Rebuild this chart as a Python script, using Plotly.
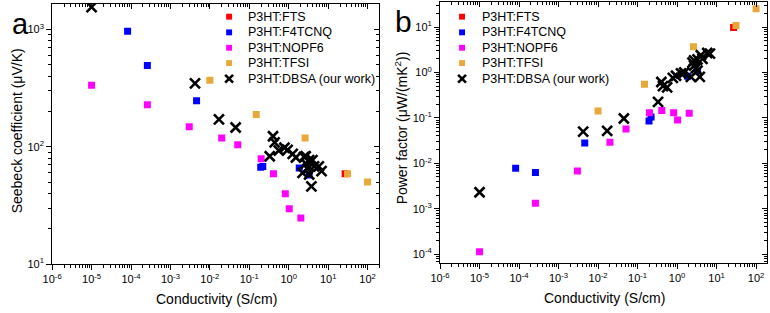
import plotly.graph_objects as go

# ---------------- data ----------------
series_names = ["P3HT:FTS", "P3HT:F4TCNQ", "P3HT:NOPF6", "P3HT:TFSI", "P3HT:DBSA (our work)"]
series_colors = ["#FF0000", "#0000FF", "#FF00FF", "#E8A93A", "#000000"]

# conductivity (S/cm), Seebeck (uV/K), power factor (uW/(m K^2))
fts_cond = [27]
fts_seebeck = [59]
fts_pf = [9.8]

f4tcnq_cond = [8.2e-5, 2.6e-4, 4.6e-3, 0.195, 0.22, 1.85, 3.3]
f4tcnq_seebeck = [966, 493, 247, 67, 68, 66, 57.5]
f4tcnq_pf = [7.8e-3, 6.3e-3, 0.028, 0.086, 0.105, 0.83, 1.1]

nopf6_cond = [1e-5, 2.6e-4, 3.0e-3, 0.020, 0.051, 0.20, 0.41, 0.82, 1.03, 2.03]
nopf6_seebeck = [335, 228, 148, 119, 104, 79, 59, 39.7, 29.7, 24.7]
nopf6_pf = [1.13e-4, 1.32e-3, 6.8e-3, 0.029, 0.057, 0.13, 0.146, 0.13, 0.09, 0.126]

tfsi_cond = [0.01, 0.15, 2.6, 31, 100]
tfsi_seebeck = [369, 188, 119, 59, 50]
tfsi_pf = [0.142, 0.55, 3.7, 10.9, 25.4]

dbsa_cond = [1e-5, 4.2e-3, 0.017, 0.045, 0.33, 0.40, 0.44, 0.56, 0.78, 0.94, 1.26, 1.52,
             2.7, 2.7, 3.0, 4.0, 4.4, 5.8, 6.8, 2.24, 3.3, 3.76, 2.45, 3.3]
dbsa_seebeck = [1550, 347, 171, 146, 83, 123, 109, 93, 98, 94, 87, 81,
                83, 72, 65, 77, 68, 68, 62, 60, 58, 46, 82, 77]
dbsa_pf = [2.3e-3, 0.05, 0.052, 0.097, 0.225, 0.62, 0.50, 0.47, 0.76, 0.85, 0.96, 1.0,
           1.85, 1.42, 1.25, 2.4, 2.0, 2.7, 2.6, 0.80, 1.1, 0.80, 1.65, 1.95]

cond_list = [fts_cond, f4tcnq_cond, nopf6_cond, tfsi_cond, dbsa_cond]
seebeck_list = [fts_seebeck, f4tcnq_seebeck, nopf6_seebeck, tfsi_seebeck, dbsa_seebeck]
pf_list = [fts_pf, f4tcnq_pf, nopf6_pf, tfsi_pf, dbsa_pf]

# tick labels
x_tickvals = [1e-6, 1e-5, 1e-4, 1e-3, 1e-2, 1e-1, 1, 10, 100]
x_ticktext = ["10<sup>-6</sup>", "10<sup>-5</sup>", "10<sup>-4</sup>", "10<sup>-3</sup>",
              "10<sup>-2</sup>", "10<sup>-1</sup>", "10<sup>0</sup>", "10<sup>1</sup>", "10<sup>2</sup>"]
ys_tickvals = [10, 100, 1000]
ys_ticktext = ["10<sup>1</sup>", "10<sup>2</sup>", "10<sup>3</sup>"]
yp_tickvals = [1e-4, 1e-3, 1e-2, 1e-1, 1, 10]
yp_ticktext = ["10<sup>-4</sup>", "10<sup>-3</sup>", "10<sup>-2</sup>", "10<sup>-1</sup>",
               "10<sup>0</sup>", "10<sup>1</sup>"]

# ---------------- layout helpers ----------------
W, H = 770, 313
FONT = "Liberation Sans, Arial, sans-serif"


def px_x(p):
    return p / W


def px_y(p):
    return 1 - p / H


def minor_vals(lo_exp, hi_exp):
    vals = []
    for e in range(lo_exp, hi_exp + 1):
        for m in range(2, 10):
            vals.append(m * 10.0 ** e)
    return vals


x_minor = minor_vals(-6, 2)
ys_minor = minor_vals(1, 3)
yp_minor = minor_vals(-5, 1)

fig = go.Figure()

# data traces: panel a on (x, y), panel b on (x2, y2)
for i in range(5):
    if i == 4:
        marker = dict(symbol="x-thin", size=10, color="black",
                      line=dict(width=2.6, color="black"))
    else:
        marker = dict(symbol="square", size=7, color=series_colors[i], line=dict(width=0))
    fig.add_trace(go.Scatter(x=cond_list[i], y=seebeck_list[i], mode="markers",
                             name=series_names[i], marker=marker, showlegend=False,
                             xaxis="x", yaxis="y"))
    fig.add_trace(go.Scatter(x=cond_list[i], y=pf_list[i], mode="markers",
                             name=series_names[i], marker=marker, showlegend=False,
                             xaxis="x2", yaxis="y2"))

# empty traces so the mirrored (inward-tick) overlay axes are drawn
fig.add_trace(go.Scatter(x=[], y=[], xaxis="x3", yaxis="y3", showlegend=False))
fig.add_trace(go.Scatter(x=[], y=[], xaxis="x4", yaxis="y4", showlegend=False))

tickfont = dict(family=FONT, size=11, color="black")


def main_axis(rng, dom, anchor, tv, tt, mv):
    return dict(type="log", range=rng, domain=dom, anchor=anchor,
                showline=True, linecolor="black", linewidth=1, mirror=True,
                ticks="outside", ticklen=5, tickwidth=1, tickcolor="black",
                tickmode="array", tickvals=tv, ticktext=tt,
                minor=dict(ticks="outside", ticklen=3, tickwidth=1, tickcolor="black",
                           tickmode="array", tickvals=mv, showgrid=False),
                showgrid=False, zeroline=False, tickfont=tickfont)


def overlay_axis(rng, over, side, anchor, tv, mv):
    return dict(type="log", range=rng, overlaying=over, side=side, anchor=anchor,
                showline=False, ticks="inside", ticklen=5, tickwidth=1, tickcolor="black",
                tickmode="array", tickvals=tv, showticklabels=False,
                minor=dict(ticks="inside", ticklen=3, tickwidth=1, tickcolor="black",
                           tickmode="array", tickvals=mv, showgrid=False),
                showgrid=False, zeroline=False)


xa_rng = [-6, 2.301]
ya_rng = [1, 3.217]
xb_rng = [-6, 2.27]
yb_rng = [-4.2, 1.555]

xa_dom = [px_x(42.7), px_x(374.3)]
ya_dom = [px_y(269.3), px_y(4)]
xb_dom = [px_x(435.7), px_x(766.7)]
yb_dom = [px_y(268.3), px_y(2)]

fig.update_layout(
    width=W, height=H,
    margin=dict(l=0, r=0, t=0, b=0),
    paper_bgcolor="white", plot_bgcolor="white",
    font=dict(family=FONT, color="black"),
    xaxis=main_axis(xa_rng, xa_dom, "y", x_tickvals, x_ticktext, x_minor),
    yaxis=main_axis(ya_rng, ya_dom, "x", ys_tickvals, ys_ticktext, ys_minor),
    xaxis2=main_axis(xb_rng, xb_dom, "y2", x_tickvals, x_ticktext, x_minor),
    yaxis2=main_axis(yb_rng, yb_dom, "x2", yp_tickvals, yp_ticktext, yp_minor),
    xaxis3=overlay_axis(xa_rng, "x", "top", "y3", x_tickvals, x_minor),
    yaxis3=overlay_axis(ya_rng, "y", "right", "x3", ys_tickvals, ys_minor),
    xaxis4=overlay_axis(xb_rng, "x2", "top", "y4", x_tickvals, x_minor),
    yaxis4=overlay_axis(yb_rng, "y2", "right", "x4", yp_tickvals, yp_minor),
    showlegend=False,
)

annotations = []
shapes = []

# axis titles
title_font = dict(family=FONT, size=14, color="black")
annotations.append(dict(text="Conductivity (S/cm)", x=px_x(209.7), y=px_y(305),
                        xref="paper", yref="paper", showarrow=False,
                        xanchor="center", yanchor="middle", font=title_font))
annotations.append(dict(text="Conductivity (S/cm)", x=px_x(602), y=px_y(304),
                        xref="paper", yref="paper", showarrow=False,
                        xanchor="center", yanchor="middle", font=title_font))
annotations.append(dict(text="Seebeck coefficient (\u03bcV/K)", x=px_x(8), y=px_y(133),
                        xref="paper", yref="paper", showarrow=False, textangle=-90,
                        xanchor="center", yanchor="middle", font=title_font))
annotations.append(dict(text="Power factor (\u03bcW/(mK<sup>2</sup>))", x=px_x(396), y=px_y(130),
                        xref="paper", yref="paper", showarrow=False, textangle=-90,
                        xanchor="center", yanchor="middle", font=title_font))

# panel letters
annotations.append(dict(text="a", x=px_x(0), y=px_y(24), xref="paper", yref="paper",
                        showarrow=False, xanchor="left", yanchor="middle",
                        font=dict(family=FONT, size=29, color="black")))
annotations.append(dict(text="b", x=px_x(388), y=px_y(22), xref="paper", yref="paper",
                        showarrow=False, xanchor="left", yanchor="middle",
                        font=dict(family=FONT, size=30, color="black")))

# manual legends (one per panel)
legend_rows = [17, 33, 48.7, 64.3, 80.3]
legend_font = dict(family=FONT, size=12.5, color="black")
for mx, tx in [(222, 239), (458, 476)]:
    for i, name in enumerate(series_names):
        ry = legend_rows[i]
        annotations.append(dict(text=name, x=px_x(tx), y=px_y(ry), xref="paper", yref="paper",
                                showarrow=False, xanchor="left", yanchor="middle",
                                font=legend_font))
        if i < 4:
            shapes.append(dict(type="rect", xref="paper", yref="paper",
                               x0=px_x(mx - 3), x1=px_x(mx + 3),
                               y0=px_y(ry + 3), y1=px_y(ry - 3),
                               fillcolor=series_colors[i], line=dict(width=0)))
        else:
            for (a, b) in [((-4, -4), (4, 4)), ((-4, 4), (4, -4))]:
                shapes.append(dict(type="line", xref="paper", yref="paper",
                                   x0=px_x(mx + a[0]), y0=px_y(ry + a[1]),
                                   x1=px_x(mx + b[0]), y1=px_y(ry + b[1]),
                                   line=dict(color="black", width=2.6)))

fig.update_layout(annotations=annotations, shapes=shapes)

fig.write_html("out.html")
